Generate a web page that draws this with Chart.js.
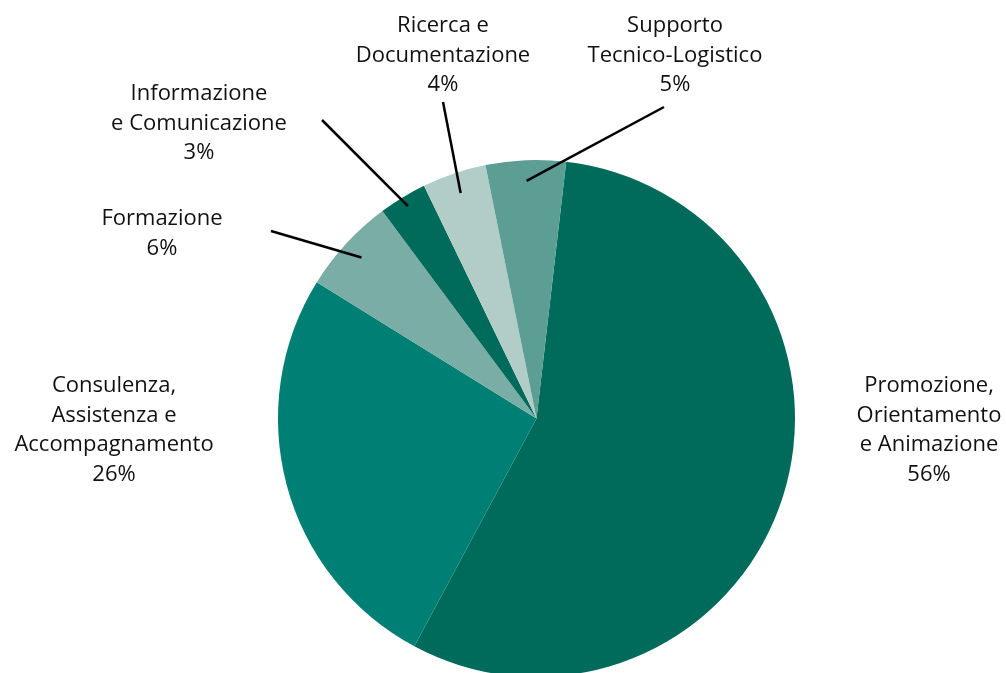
<!DOCTYPE html>
<html>
<head>
<meta charset="utf-8">
<script src="https://cdn.jsdelivr.net/npm/chart.js@4"></script>
<style>
  html, body { margin: 0; padding: 0; background: #fff; overflow: hidden; }
  #wrap { position: relative; width: 1006px; height: 680px; }
</style>
</head>
<body>
<div id="wrap"><canvas id="torta"></canvas></div>
<script>
// dati
const categorie = [
  ["Promozione,", "Orientamento", "e Animazione"],
  ["Consulenza,", "Assistenza e", "Accompagnamento"],
  ["Formazione"],
  ["Informazione", "e Comunicazione"],
  ["Ricerca e", "Documentazione"],
  ["Supporto", "Tecnico-Logistico"]
];
const percentuali = [56, 26, 6, 3, 4, 5];
const colori = ["#006b5a", "#008074", "#7aada5", "#006b5a", "#b2cdc8", "#5c9e94"];

// posizione delle etichette (centro testo, prima riga) e punto esterno della linea
const posEtichette = [
  { x: 929, y: 386, linea: null },
  { x: 114, y: 386, linea: null },
  { x: 162, y: 219, linea: [271, 231], r: 0.92 },
  { x: 199, y: 94, linea: [322, 120], r: 0.96 },
  { x: 443, y: 26, linea: [443, 102], r: 0.92 },
  { x: 675, y: 26, linea: [664, 107], r: 0.92 }
];

const etichettePlugin = {
  id: "etichette",
  afterDatasetsDraw(chart) {
    const ctx = chart.ctx;
    const archi = chart.getDatasetMeta(0).data;
    ctx.save();
    ctx.fillStyle = "#111";
    ctx.strokeStyle = "#000";
    ctx.lineWidth = 2.5;
    ctx.font = "22px 'Open Sans', 'Noto Sans', sans-serif";
    ctx.textAlign = "center";
    ctx.textBaseline = "middle";
    archi.forEach((arco, i) => {
      const p = posEtichette[i];
      const righe = categorie[i].concat([percentuali[i] + "%"]);
      righe.forEach((r, k) => ctx.fillText(r, p.x, p.y + k * 29.5));
      if (p.linea) {
        const a = (arco.startAngle + arco.endAngle) / 2;
        const rr = arco.outerRadius * p.r;
        ctx.beginPath();
        ctx.moveTo(p.linea[0], p.linea[1]);
        ctx.lineTo(arco.x + Math.cos(a) * rr, arco.y + Math.sin(a) * rr);
        ctx.stroke();
      }
    });
    ctx.restore();
  }
};

new Chart(document.getElementById("torta").getContext("2d"), {
  type: "pie",
  data: {
    labels: categorie.map((c) => c.join(" ")),
    datasets: [
      {
        data: percentuali,
        backgroundColor: colori,
        borderWidth: 0
      }
    ]
  },
  options: {
    responsive: true,
    maintainAspectRatio: false,
    animation: false,
    rotation: 6.6,
    layout: { padding: { left: 278, right: 211, top: 160, bottom: 3 } },
    plugins: {
      legend: { display: false },
      tooltip: { enabled: false }
    }
  },
  plugins: [etichettePlugin]
});
</script>
</body>
</html>
